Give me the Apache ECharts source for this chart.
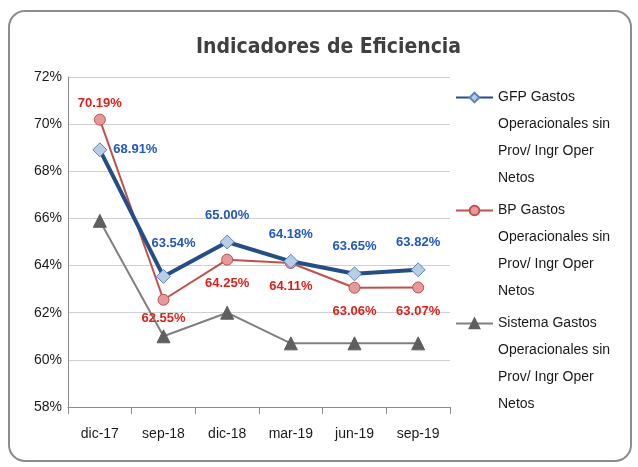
<!DOCTYPE html>
<html>
<head>
<meta charset="utf-8">
<script src="https://cdn.jsdelivr.net/npm/echarts@6/dist/echarts.min.js"></script>
<style>
  html, body { margin: 0; padding: 0; background: #fff; }
  #main { width: 638px; height: 467px; }
</style>
</head>
<body>
<div id="main"></div>
<script>
var categories = ['dic-17', 'sep-18', 'dic-18', 'mar-19', 'jun-19', 'sep-19'];
var gfpValues = [68.91, 63.54, 65.00, 64.18, 63.65, 63.82];
var bpValues = [70.19, 62.55, 64.25, 64.11, 63.06, 63.07];
var sistemaValues = [65.9, 61.0, 62.0, 60.7, 60.7, 60.7];
var seriesNames = [
  'GFP Gastos\nOperacionales sin\nProv/ Ingr Oper\nNetos',
  'BP Gastos\nOperacionales sin\nProv/ Ingr Oper\nNetos',
  'Sistema Gastos\nOperacionales sin\nProv/ Ingr Oper\nNetos'
];

var myChart = echarts.init(document.getElementById('main'));

var labelFont = { fontFamily: 'Liberation Sans', fontWeight: 'bold', fontSize: 13 };

// blue labels sit above, except the first one which goes right
var gfpData = gfpValues.map(function (v, i) {
  var lbl = { position: 'top', distance: 13 };
  if (i === 0) lbl = { position: 'right', distance: 6 };
  if (i === 1) lbl = { position: 'top', distance: 13, offset: [10, -6] };
  return { value: v, label: lbl };
});
// red labels sit below, except the first one
var bpData = bpValues.map(function (v, i) {
  return {
    value: v,
    label: i === 0 ? { position: 'top', distance: 4 } : { position: 'bottom', distance: i === 1 ? 6 : 11 }
  };
});

function pct(p) { return p.value.toFixed(2) + '%'; }

option = {
  backgroundColor: '#fff',
  animation: false,
  graphic: [{
    type: 'rect',
    z: -10,
    shape: { x: 9, y: 11, width: 622, height: 450, r: 16 },
    style: { fill: 'none', stroke: '#8c8c8c', lineWidth: 2 }
  }],
  title: {
    text: 'Indicadores de Eficiencia',
    left: 191,
    top: 32,
    textStyle: {
      fontFamily: 'DejaVu Sans Condensed',
      fontWeight: 'bold',
      fontSize: 21,
      color: '#404040'
    }
  },
  grid: { left: 68, right: 188, top: 77, bottom: 60 },
  legend: {
    orient: 'vertical',
    left: 455,
    top: 3,
    padding: 0,
    itemGap: -76,
    itemWidth: 37,
    itemHeight: 12,
    data: seriesNames,
    // blank lines above so the icon lines up with the first text line
    formatter: function (name) { return '\n\n\n' + name; },
    textStyle: {
      fontFamily: 'Liberation Sans',
      fontSize: 14,
      lineHeight: 27,
      color: '#1a1a1a'
    }
  },
  xAxis: {
    type: 'category',
    data: categories,
    boundaryGap: true,
    axisLine: { lineStyle: { color: '#8c8c8c', width: 1 } },
    axisTick: { show: true, length: 7, lineStyle: { color: '#8c8c8c' } },
    axisLabel: {
      margin: 20,
      fontFamily: 'Liberation Sans',
      fontSize: 14,
      color: '#1a1a1a'
    }
  },
  yAxis: {
    type: 'value',
    min: 58,
    max: 72,
    interval: 2,
    axisLine: { show: true, lineStyle: { color: '#8c8c8c', width: 1 } },
    axisTick: { show: false },
    splitLine: { lineStyle: { color: '#d0d0d0' } },
    axisLabel: {
      margin: 6,
      formatter: '{value}%',
      fontFamily: 'Liberation Sans',
      fontSize: 14,
      color: '#1a1a1a'
    }
  },
  series: [
    {
      name: seriesNames[0],
      type: 'line',
      data: gfpData,
      symbol: 'diamond',
      symbolSize: 14,
      z: 4,
      lineStyle: { color: '#254e86', width: 4 },
      itemStyle: { color: '#b9cde5', borderColor: '#5b86bf', borderWidth: 1 },
      label: Object.assign({ show: true, color: '#2256c2', formatter: pct }, labelFont)
    },
    {
      name: seriesNames[1],
      type: 'line',
      data: bpData,
      symbol: 'circle',
      symbolSize: 11,
      z: 3,
      lineStyle: { color: '#c0504d', width: 2 },
      itemStyle: { color: '#e39a98', borderColor: '#c0504d', borderWidth: 1 },
      label: Object.assign({ show: true, color: '#e0201c', formatter: pct }, labelFont)
    },
    {
      name: seriesNames[2],
      type: 'line',
      data: sistemaValues,
      symbol: 'triangle',
      symbolSize: 13,
      z: 2,
      lineStyle: { color: '#808080', width: 2 },
      itemStyle: { color: '#5f5f5f', borderColor: '#5f5f5f', borderWidth: 1 }
    }
  ]
};

myChart.setOption(option);
</script>
</body>
</html>
